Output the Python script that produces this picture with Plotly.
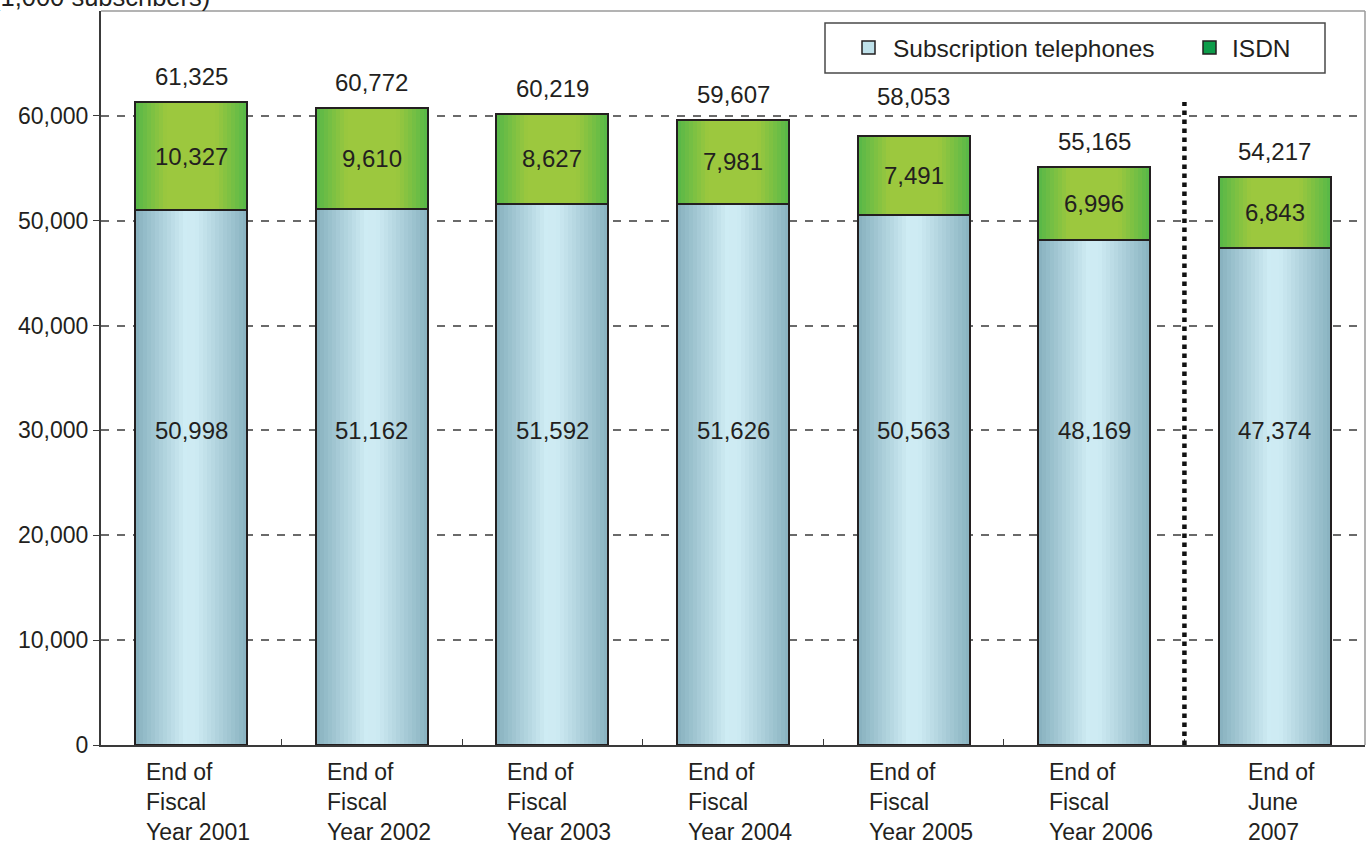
import plotly.graph_objects as go

categories = ["End of<br>Fiscal<br>Year 2001", "End of<br>Fiscal<br>Year 2002", "End of<br>Fiscal<br>Year 2003",
              "End of<br>Fiscal<br>Year 2004", "End of<br>Fiscal<br>Year 2005", "End of<br>Fiscal<br>Year 2006",
              "End of<br>June<br>2007"]
phones = [50998, 51162, 51592, 51626, 50563, 48169, 47374]
isdn = [10327, 9610, 8627, 7981, 7491, 6996, 6843]
totals = [61325, 60772, 60219, 59607, 58053, 55165, 54217]
y_ticks = [0, 10000, 20000, 30000, 40000, 50000, 60000]
y_tick_labels = ["0", "10,000", "20,000", "30,000", "40,000", "50,000", "60,000"]
unit_label = "(1,000 subscribers)"
legend_names = ["Subscription telephones", "ISDN"]

FONT = "Liberation Sans, Arial, sans-serif"
TXT = "#231f20"
FS = 23
VFS = 24
W = 0.62
N = 28
YMAX = 70000

# plot area in page pixels
L, R, T, B = 101, 1365, 11, 745
PW, PH = R - L, B - T
PPU = PH / YMAX


def px_x(px):
    return (px - L) / PW


def px_y(py):
    return (B - py) / PH


def interp(stops, t):
    for (t0, c0), (t1, c1) in zip(stops, stops[1:]):
        if t0 <= t <= t1:
            f = (t - t0) / (t1 - t0) if t1 > t0 else 0
            c = [round(a + (b - a) * f) for a, b in zip(c0, c1)]
            return "rgb(%d,%d,%d)" % tuple(c)
    c = stops[-1][1]
    return "rgb(%d,%d,%d)" % tuple(c)


blue_stops = [(0, (134, 176, 190)), (0.45, (207, 236, 244)), (0.55, (205, 234, 242)), (1, (136, 178, 192))]
green_stops = [(0, (86, 183, 72)), (0.28, (156, 200, 62)), (0.72, (156, 200, 62)), (1, (86, 184, 72))]

fig = go.Figure()

for series, base, stops in [(phones, None, blue_stops), (isdn, phones, green_stops)]:
    for k in range(N):
        t = (k + 0.5) / N
        fig.add_trace(go.Bar(
            x=categories, y=series, base=base,
            width=W / N * 1.08, offset=-W / 2 + k * W / N,
            marker=dict(color=interp(stops, t), line=dict(width=0)),
            showlegend=False, hoverinfo="skip"))

# outlines
for series, base in [(phones, None), (isdn, phones)]:
    fig.add_trace(go.Bar(
        x=categories, y=series, base=base, width=W, offset=-W / 2,
        marker=dict(color="rgba(0,0,0,0)", line=dict(color="#231f20", width=2)),
        showlegend=False, hoverinfo="skip"))

ann = []
for c, p, i, tot in zip(categories, phones, isdn, totals):
    ysh = 10
    bottom = tot + ysh / PPU
    top = bottom + 26 / PPU
    for g in y_ticks:
        if bottom <= g <= top:
            ysh = (g - tot) * PPU + 4
    ann.append(dict(x=c, y=tot, text=f"{tot:,}", showarrow=False, yanchor="bottom", yshift=ysh,
                    font=dict(size=VFS, color=TXT, family=FONT)))
    ann.append(dict(x=c, y=p + i / 2, text=f"{i:,}", showarrow=False, yanchor="middle",
                    font=dict(size=VFS, color=TXT, family=FONT)))
    ann.append(dict(x=c, y=30000, text=f"{p:,}", showarrow=False, yanchor="middle",
                    font=dict(size=VFS, color=TXT, family=FONT)))
    ann.append(dict(x=c, y=0, yref="y", text=c, showarrow=False, yanchor="top", yshift=-12,
                    xshift=7, align="left", font=dict(size=FS, color=TXT, family=FONT)))

ann.append(dict(xref="paper", yref="paper", x=px_x(212), y=px_y(-3), xanchor="right",
                yanchor="middle", text=unit_label, showarrow=False,
                font=dict(size=25.5, color=TXT, family=FONT)))

# manual legend
LFS = 24.5
ann.append(dict(xref="paper", yref="paper", x=px_x(891), y=px_y(48), xanchor="left", yanchor="middle",
                text=legend_names[0], showarrow=False, font=dict(size=LFS, color=TXT, family=FONT)))
ann.append(dict(xref="paper", yref="paper", x=px_x(1230), y=px_y(48), xanchor="left", yanchor="middle",
                text=legend_names[1], showarrow=False, font=dict(size=LFS, color=TXT, family=FONT)))

shapes = [
    dict(type="line", xref="x", yref="y", x0=5.5, x1=5.5, y0=0, y1=max(totals),
         line=dict(color="#111", width=4.5, dash="dot")),
    # top and right frame
    dict(type="line", xref="paper", yref="paper", x0=0, x1=1, y0=1, y1=1, line=dict(color="#9a9a9a", width=1.5)),
    dict(type="line", xref="paper", yref="paper", x0=1, x1=1, y0=0, y1=1, line=dict(color="#9a9a9a", width=1.5)),
    # legend box and swatches
    dict(type="rect", xref="paper", yref="paper", x0=px_x(825), x1=px_x(1325), y0=px_y(73), y1=px_y(23),
         fillcolor="white", line=dict(color="#4a4a4a", width=1.5)),
    dict(type="rect", xref="paper", yref="paper", x0=px_x(862), x1=px_x(875), y0=px_y(54), y1=px_y(41),
         fillcolor="#bfe1ea", line=dict(color="#231f20", width=1.5)),
    dict(type="rect", xref="paper", yref="paper", x0=px_x(1203), x1=px_x(1216), y0=px_y(54), y1=px_y(41),
         fillcolor="#0d9c4a", line=dict(color="#231f20", width=1.5)),
]

fig.update_layout(
    width=1370, height=844,
    margin=dict(l=L, r=1370 - R, t=T, b=844 - B),
    paper_bgcolor="white", plot_bgcolor="white",
    barmode="overlay", bargap=0,
    font=dict(family=FONT, size=FS, color=TXT),
    annotations=ann,
    showlegend=False,
    shapes=shapes,
)
fig.update_xaxes(showticklabels=False, showline=True, linecolor="#3a3a3a", linewidth=2,
                 ticks="inside", tickson="boundaries", ticklen=6, tickcolor="#3a3a3a",
                 showgrid=False, range=[-0.5, 6.5], fixedrange=True)
fig.update_yaxes(range=[0, YMAX], tickvals=y_ticks, ticktext=y_tick_labels,
                 showline=True, linecolor="#3a3a3a", linewidth=2,
                 ticks="outside", ticklen=6, tickcolor="#3a3a3a",
                 showgrid=True, gridcolor="#6a6a6a", gridwidth=1.6, griddash="8px,8px",
                 zeroline=False, tickfont=dict(size=FS, color=TXT, family=FONT))

fig.write_html("out.html", config={"displayModeBar": False},
               post_script="document.body.style.margin='0';")
